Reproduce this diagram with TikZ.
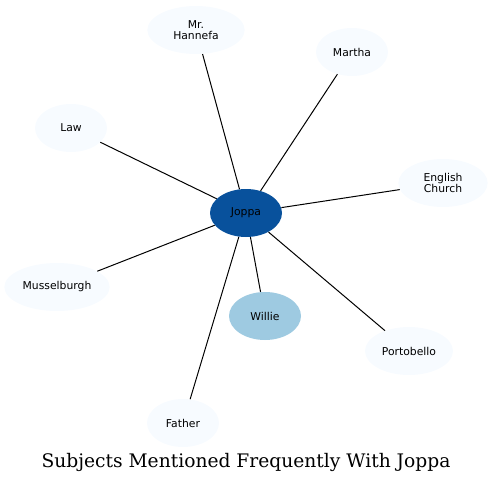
\documentclass[tikz,border=0pt]{standalone}
\usepackage{fontspec}
\newfontfamily\labelfont{DejaVu Sans}
\newfontfamily\titlefont{DejaVu Serif}
\usepackage{xcolor}
\usepackage{tikz}
\usetikzlibrary{shapes.geometric}

\definecolor{hubblue}{RGB}{8,81,156}
\definecolor{midblue}{RGB}{158,202,225}
\definecolor{paleblue}{RGB}{247,251,255}

\begin{document}
\begin{tikzpicture}[
  x=0.75pt, y=-0.75pt,
  every node/.style={font=\labelfont\fontsize{8.1}{9}\selectfont},
  topic/.style={ellipse, fill=paleblue, minimum width=54pt, minimum height=36pt,
                inner sep=0pt, align=center},
  link/.style={black, line width=0.75pt},
]
\useasboundingbox (0,0) rectangle (494,483);

%% ── Centre node ─────────────────────────────────────────────────────────────
\node[topic, fill=hubblue] (joppa) at (246, 213) {Joppa};

%% ── Surrounding topics ──────────────────────────────────────────────────────
\node[topic, minimum width=73pt] (hannefa) at (196, 30) {Mr.\\[-1pt]Hannefa};
\node[topic] (martha) at (352, 52) {Martha};
\node[topic] (law) at (71, 128) {Law};
\node[topic, minimum width=67pt] (church) at (443, 183) {English\\[-1pt]Church};
\node[topic, minimum width=79pt] (mussel) at (57, 287) {Musselburgh};
\node[topic, fill=midblue] (willie) at (265, 316) {Willie};
\node[topic, minimum width=66pt] (porto) at (409, 351) {Portobello};
\node[topic] (father) at (183, 423) {Father};

%% ── Links ───────────────────────────────────────────────────────────────────
\foreach \n in {hannefa, martha, law, church, mussel, willie, porto, father} {
  \draw[link] (joppa) -- (\n);
}

%% Title
\node[font=\titlefont\fontsize{14}{16}\selectfont] (title) at (246, 462)
  {Subjects Mentioned Frequently With Joppa};

\end{tikzpicture}
\end{document}
